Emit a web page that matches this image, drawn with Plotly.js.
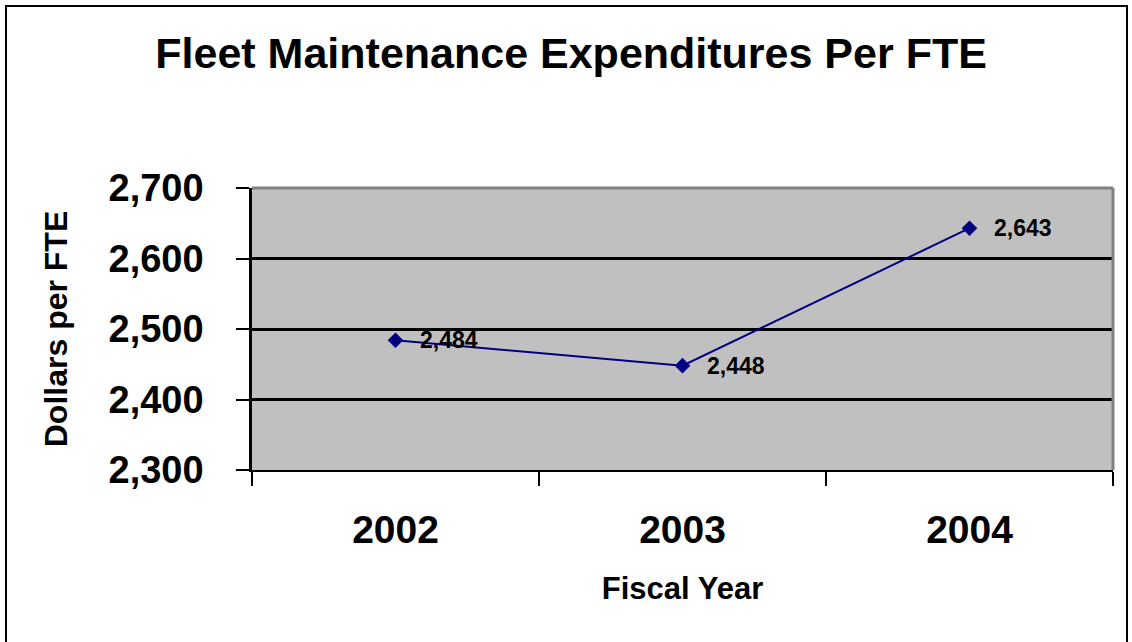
<!DOCTYPE html>
<html>
<head>
<meta charset="utf-8">
<script src="https://cdn.plot.ly/plotly-3.0.1.min.js"></script>
<style>
  html, body { margin: 0; padding: 0; background: #ffffff; overflow: hidden; }
  #frame { position: absolute; left: 5px; top: 5px; width: 1123px; height: 660px; border: 2px solid #000; box-sizing: border-box; pointer-events: none; z-index: 5; }
  #chart { position: absolute; left: 0; top: 0; width: 1132px; height: 642px; }
</style>
</head>
<body>
<div id="chart"></div>
<div id="frame"></div>
<script>
const years = ['2002', '2003', '2004'];
const dollarsPerFTE = [2484, 2448, 2643];
const yTickValues = [2300, 2400, 2500, 2600, 2700];
const valueLabels = ['2,484', '2,448', '2,643'];
const chartTitle = 'Fleet Maintenance Expenditures Per FTE';
const xTitle = 'Fiscal Year';
const yTitle = 'Dollars per FTE';

const font = 'Arial, "Liberation Sans", sans-serif';

const trace = {
  type: 'scatter',
  mode: 'lines+markers',
  x: years,
  y: dollarsPerFTE,
  line: { color: '#000080', width: 2 },
  marker: { symbol: 'diamond', size: 12, color: '#000080' },
  hoverinfo: 'x+y'
};

const annotations = years.map((yr, i) => ({
  x: i, y: dollarsPerFTE[i], xref: 'x', yref: 'y',
  text: '<b>' + valueLabels[i] + '</b>',
  showarrow: false, xanchor: 'left', yanchor: 'middle', xshift: 22,
  font: { family: font, size: 23, color: '#000000' }
}));

const layout = {
  width: 1132, height: 642,
  paper_bgcolor: '#ffffff',
  plot_bgcolor: '#C0C0C0',
  margin: { l: 252, r: 19, t: 188, b: 172, pad: 0 },
  showlegend: false,
  font: { family: font, color: '#000' },
  title: {
    text: '<b>' + chartTitle + '</b>',
    font: { family: font, size: 43, color: '#000' },
    xref: 'container', x: 0.5045, xanchor: 'center',
    yref: 'container', y: 1 - 53 / 642, yanchor: 'middle'
  },
  xaxis: {
    type: 'category',
    range: [-0.5, 2.5],
    tickson: 'boundaries',
    ticks: 'outside', ticklen: 14, tickwidth: 2, tickcolor: '#000',
    showline: true, linecolor: '#000', linewidth: 2,
    showgrid: false, zeroline: false,
    tickfont: { family: font, size: 39, color: '#000', weight: 'bold' },
    ticklabelstandoff: 24,
    title: { text: '<b>' + xTitle + '</b>', font: { family: font, size: 31, color: '#000' }, standoff: 28 },
    automargin: false, fixedrange: true
  },
  yaxis: {
    range: [2300, 2700],
    tickvals: yTickValues,
    tickformat: ',d',
    ticks: 'outside', ticklen: 13, tickwidth: 2, tickcolor: '#000',
    showline: true, linecolor: '#000', linewidth: 2.5,
    showgrid: true, gridcolor: '#000', gridwidth: 2.5,
    zeroline: false,
    tickfont: { family: font, size: 38, color: '#000', weight: 'bold' },
    ticklabelstandoff: 25,
    title: { text: '<b>' + yTitle + '</b>', font: { family: font, size: 32, color: '#000' }, standoff: 32 },
    automargin: false, fixedrange: true
  },
  shapes: [
    { type: 'line', xref: 'paper', yref: 'paper', x0: 0, x1: 1, y0: 1, y1: 1, line: { color: '#808080', width: 3 }, layer: 'above' },
    { type: 'line', xref: 'paper', yref: 'paper', x0: 1, x1: 1, y0: 0, y1: 1, line: { color: '#808080', width: 3 }, layer: 'above' }
  ],
  annotations: annotations
};

Plotly.newPlot('chart', [trace], layout, { displayModeBar: false, responsive: false });
</script>
</body>
</html>
